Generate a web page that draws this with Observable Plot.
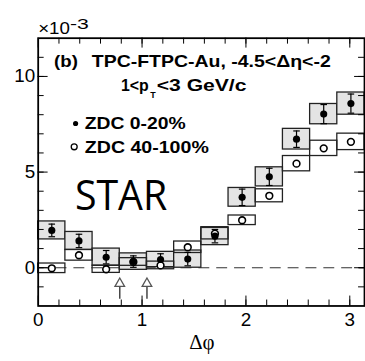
<!DOCTYPE html>
<html>
<head>
<meta charset="utf-8">
<script src="https://cdn.jsdelivr.net/npm/d3@7"></script>
<script src="https://cdn.jsdelivr.net/npm/@observablehq/plot@0.6"></script>
<style>
  html, body { margin: 0; padding: 0; background: #fff; overflow: hidden; width: 365px; height: 361px; }
  #chart svg { display: block; }
</style>
</head>
<body>
<div id="chart"></div>
<script>
// ---- data ----
const nBins = 12;                       // Δφ bins of width π/12 over [0, π]
const zdc0_20      = [1.95, 1.40, 0.55, 0.32, 0.43, 0.45, 1.65, 3.68, 4.75, 6.72, 8.03, 8.58];
const zdc0_20Stat  = [0.33, 0.35, 0.35, 0.30, 0.30, 0.35, 0.35, 0.43, 0.45, 0.43, 0.50, 0.50];
const zdc0_20Sys   = [0.47, 0.47, 0.45, 0.43, 0.40, 0.45, 0.47, 0.49, 0.50, 0.54, 0.53, 0.58];
const zdc40_100    = [-0.03, 0.65, -0.08, 0.30, 0.12, 1.07, 1.78, 2.48, 3.76, 5.44, 6.24, 6.58];
const zdc40_100Sys = [0.25, 0.28, 0.19, 0.20, 0.20, 0.30, 0.30, 0.25, 0.34, 0.40, 0.40, 0.43];
const arrowX = [Math.PI / 4, Math.PI / 3];
const xTickLabels = [0, 1, 2, 3];
const yTickLabels = [0, 5, 10];
const xMinorTicks = [0.2, 0.4, 0.6, 0.8, 1, 1.2, 1.4, 1.6, 1.8, 2, 2.2, 2.4, 2.6, 2.8, 3];
const yMinorTicks = [-1, 0, 1, 2, 3, 4, 5, 6, 7, 8, 9, 10, 11];
const titleLine1a = "(b)";
const titleLine1b = "TPC-FTPC-Au, -4.5<Δη<-2";
const titleLine2a = "1<p";
const titleLine2sub = "T";
const titleLine2b = "<3 GeV/c";
const legendLabels = ["ZDC 0-20%", "ZDC 40-100%"];
const starLabel = "STAR";
const scaleLabel = "×10";
const scaleExp = "-3";
const xLabel = "Δφ";

// ---- table ----
const w = Math.PI / nBins;
const rows = zdc0_20.map((f, i) => ({
  x1: i * w, x2: (i + 1) * w, xc: (i + 0.5) * w,
  f, fs: zdc0_20Stat[i], fsys: zdc0_20Sys[i],
  o: zdc40_100[i], osys: zdc40_100Sys[i]
}));

// ---- layout ----
const W = 368, H = 361, ML = 38, MR = 1, MT = 38, MB = 53;
const innerW = W - ML - MR, innerH = H - MT - MB;
const bold = "Liberation Sans, Arial, sans-serif";
const capSymbol = { draw(ctx, size) { ctx.moveTo(-3.3, 0); ctx.lineTo(3.3, 0); } };

function txt(s, X, Y, opts) {
  return Plot.text([s], Object.assign({
    text: d => d, frameAnchor: "top-left", dx: X - ML, dy: Y - MT,
    textAnchor: "start", lineAnchor: "bottom", fill: "#000"
  }, opts));
}

const plot = Plot.plot({
  width: W, height: H,
  marginLeft: ML, marginRight: MR, marginTop: MT, marginBottom: MB,
  x: { domain: [0, Math.PI], axis: null },
  y: { domain: [-2, 12], axis: null },
  style: { fontFamily: bold, color: "#000", background: "#fff", overflow: "visible" },
  marks: [
    Plot.ruleY([0], { stroke: "#333", strokeWidth: 1.2, strokeDasharray: "11,7" }),
    // systematic boxes
    Plot.rect(rows, { x1: "x1", x2: "x2", y1: d => d.f - d.fsys, y2: d => d.f + d.fsys,
      fill: "#e4e4e4", stroke: "#222", strokeWidth: 1.3 }),
    Plot.rect(rows, { x1: "x1", x2: "x2", y1: d => d.o - d.osys, y2: d => d.o + d.osys,
      fill: "none", stroke: "#222", strokeWidth: 1.3 }),
    // stat error bars
    Plot.ruleX(rows, { x: "xc", y1: d => d.f - d.fs, y2: d => d.f + d.fs, stroke: "#000", strokeWidth: 1.2 }),
    Plot.dot(rows, { x: "xc", y: d => d.f - d.fs, symbol: capSymbol, stroke: "#000", strokeWidth: 1.2, r: 3 }),
    Plot.dot(rows, { x: "xc", y: d => d.f + d.fs, symbol: capSymbol, stroke: "#000", strokeWidth: 1.2, r: 3 }),
    // points
    Plot.dot(rows, { x: "xc", y: "o", r: 3.4, fill: "#fff", stroke: "#000", strokeWidth: 1.6 }),
    Plot.dot(rows, { x: "xc", y: "f", r: 3.6, fill: "#000" }),
    // arrows
    Plot.ruleX(arrowX, { x: d => d, y1: -0.98, y2: -1.65, stroke: "#444", strokeWidth: 1.5 }),
    Plot.dot(arrowX, { x: d => d, y: -0.83, symbol: "triangle", r: 3.6, fill: "#fff", stroke: "#555", strokeWidth: 1.3 }),
    // ticks (inward)
    Plot.ruleY(yMinorTicks, { y: d => d, insetRight: innerW - 6, stroke: "#000" }),
    Plot.ruleY(yTickLabels, { y: d => d, insetRight: innerW - 10, stroke: "#000" }),
    Plot.ruleY(yMinorTicks, { y: d => d, insetLeft: innerW - 6, stroke: "#000" }),
    Plot.ruleY(yTickLabels, { y: d => d, insetLeft: innerW - 10, stroke: "#000" }),
    Plot.ruleX(xMinorTicks, { x: d => d, insetTop: innerH - 6, stroke: "#000" }),
    Plot.ruleX(xTickLabels, { x: d => d, insetTop: innerH - 10, stroke: "#000" }),
    Plot.ruleX(xMinorTicks, { x: d => d, insetBottom: innerH - 6, stroke: "#000" }),
    Plot.ruleX(xTickLabels, { x: d => d, insetBottom: innerH - 10, stroke: "#000" }),
    Plot.frame({ stroke: "#000", strokeWidth: 1.8 }),
    // axes labels
    Plot.axisY({ ticks: yTickLabels, tickSize: 0, tickPadding: 3, fontSize: 19, tickFormat: d => String(d), label: null }),
    Plot.axisX({ ticks: xTickLabels, tickSize: 0, tickPadding: 7, fontSize: 19, tickFormat: d => String(d), label: null }),
    // texts
    txt(titleLine1a, 54, 67, { fontWeight: "bold", fontSize: 16 }),
    txt(titleLine1b, 92, 67, { fontWeight: "bold", fontSize: 16 }),
    txt(titleLine2a, 121.5, 91.5, { fontWeight: "bold", fontSize: 16 }),
    txt(titleLine2sub, 151, 98.5, { fontWeight: "bold", fontSize: 9 }),
    txt(titleLine2b, 157.5, 91.5, { fontWeight: "bold", fontSize: 16 }),
    Plot.dot([0], { frameAnchor: "top-left", dx: 75.7 - ML, dy: 124 - MT, r: 2.6, fill: "#000" }),
    Plot.dot([0], { frameAnchor: "top-left", dx: 74.3 - ML, dy: 147.5 - MT, r: 3, fill: "#fff", stroke: "#000", strokeWidth: 1.3 }),
    txt(legendLabels[0], 85, 129.3, { fontWeight: "bold", fontSize: 16 }),
    txt(legendLabels[1], 85, 153.3, { fontWeight: "bold", fontSize: 16 }),
    txt(starLabel, 75, 211.7, { fontFamily: "Open Sans, sans-serif", fontSize: 42 }),
    txt(scaleLabel, 38, 33.5, { fontSize: 17 }),
    txt(scaleExp, 70, 29, { fontSize: 15 }),
    txt(xLabel, 203, 351, { textAnchor: "middle", fontFamily: "Liberation Serif, DejaVu Serif, serif", fontSize: 21 })
  ]
});

// stretch texts horizontally to the widths measured in the reference
const widths = {
  [titleLine1a]: 24, [titleLine1b]: 241, [titleLine2a]: 28, [titleLine2b]: 90.5,
  [legendLabels[0]]: 101.7, [legendLabels[1]]: 125, [starLabel]: 93,
  [scaleLabel]: 32, [scaleExp]: 19
};
plot.querySelectorAll("text").forEach(t => {
  const s = t.textContent;
  if (widths[s] !== undefined) {
    t.setAttribute("textLength", widths[s]);
    t.setAttribute("lengthAdjust", "spacingAndGlyphs");
  }
});
document.getElementById("chart").appendChild(plot);
</script>
</body>
</html>
